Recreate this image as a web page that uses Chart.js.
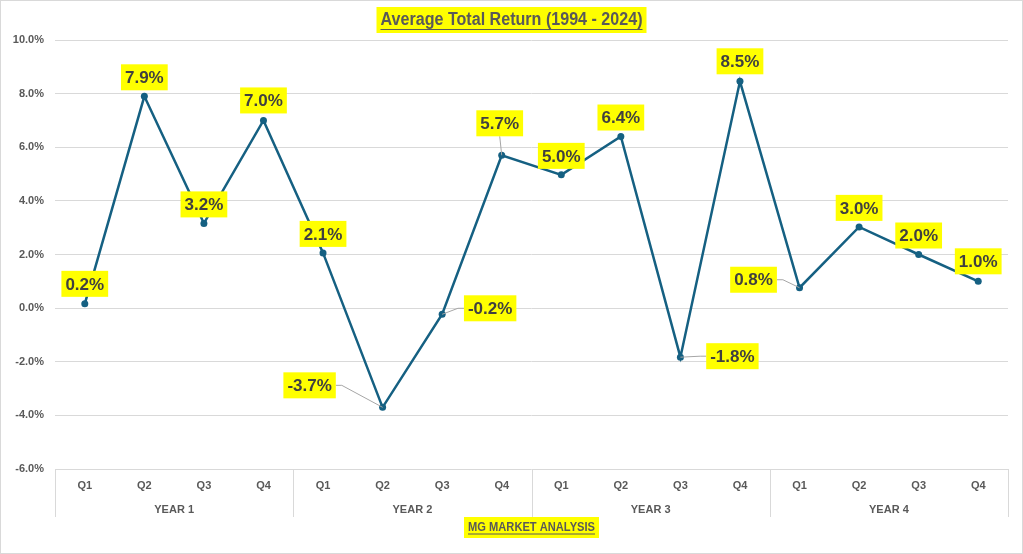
<!DOCTYPE html>
<html lang="en">
  <head>
    <meta charset="UTF-8" />
    <title>Average Total Return (1994 - 2024)</title>
    <script src="https://cdn.jsdelivr.net/npm/chart.js"></script>
    <style>
      body {
        margin: 0;
        background: #fff;
        font-family: "Liberation Sans", Arial, sans-serif;
      }
      #wrap {
        width: 1023px;
        height: 554px;
      }
    </style>
  </head>
  <body>
    <div id="wrap">
      <canvas id="returnChart" width="1023" height="554"></canvas>
    </div>

    <script>
      // data
      const quarters = ["Q1", "Q2", "Q3", "Q4", "Q1", "Q2", "Q3", "Q4", "Q1", "Q2", "Q3", "Q4", "Q1", "Q2", "Q3", "Q4"];
      const years = ["YEAR 1", "YEAR 2", "YEAR 3", "YEAR 4"];
      const avgReturn = [0.16, 7.9, 3.16, 7.0, 2.06, -3.7, -0.23, 5.7, 4.97, 6.4, -1.83, 8.46, 0.76, 3.03, 2.0, 1.0];
      const yTicks = { min: -6, max: 10, step: 2 };

      const chartTitle = "Average Total Return (1994 - 2024)";
      const axisTitle = "MG MARKET ANALYSIS";

      const lineColor = "#156082";
      const textGray = "#595959";
      const gridGray = "#d9d9d9";

      // label offsets from each point [dx, dy, leader]
      const labelOffsets = [
        [0, -20], [0, -19], [0, -19], [0, -20],
        [0, -19], [-73, -22, true], [48, -6, true], [-2, -32, true],
        [0, -19], [0, -19], [52, -1, true], [0, -20],
        [-46, -8, true], [0, -19], [0, -19], [0, -20],
      ];

      function fitText(ctx, text, x, y, maxW) {
        const w = ctx.measureText(text).width;
        const k = w > maxW ? maxW / w : 1;
        ctx.save();
        ctx.translate(x, y);
        ctx.scale(k, 1);
        ctx.fillText(text, 0, 0);
        ctx.restore();
        return w * k;
      }

      function headerText(ctx, text, cx, cy, font, maxW, boxH, ulOff) {
        ctx.save();
        ctx.font = font;
        const w = Math.min(ctx.measureText(text).width, maxW);
        ctx.fillStyle = "#ffff00";
        ctx.fillRect(cx - w / 2 - 4, cy - boxH / 2, w + 8, boxH);
        ctx.fillStyle = textGray;
        ctx.textAlign = "center";
        ctx.textBaseline = "middle";
        fitText(ctx, text, cx, cy, maxW);
        ctx.strokeStyle = textGray;
        ctx.lineWidth = 1;
        ctx.beginPath();
        ctx.moveTo(cx - w / 2, cy + ulOff + 0.5);
        ctx.lineTo(cx + w / 2, cy + ulOff + 0.5);
        ctx.stroke();
        ctx.restore();
      }

      const decorPlugin = {
        id: "decor",
        afterDraw(chart) {
          const ctx = chart.ctx;
          const a = chart.chartArea;
          ctx.save();
          // year separators under the axis
          ctx.strokeStyle = gridGray;
          ctx.lineWidth = 1;
          const seg = (a.right - a.left) / years.length;
          for (let i = 0; i <= years.length; i++) {
            const x = Math.round(a.left + i * seg) + 0.5;
            ctx.beginPath();
            ctx.moveTo(x, a.bottom);
            ctx.lineTo(x, a.bottom + 48);
            ctx.stroke();
          }
          // outer frame
          ctx.strokeRect(0.5, 0.5, chart.width - 1, chart.height - 1);
          ctx.restore();

          headerText(ctx, chartTitle, chart.width / 2, 20, "bold 18px 'Liberation Sans'", 262, 26, 9);
          headerText(ctx, axisTitle, (a.left + a.right) / 2, 527.5, "bold 12px 'Liberation Sans'", 127, 21, 6);
        },
      };

      const labelPlugin = {
        id: "pointLabels",
        afterDatasetsDraw(chart) {
          const ctx = chart.ctx;
          const meta = chart.getDatasetMeta(0);
          ctx.save();
          ctx.font = "bold 17px 'Liberation Sans'";
          ctx.textAlign = "center";
          ctx.textBaseline = "middle";
          meta.data.forEach((pt, i) => {
            const [dx, dy, leader] = labelOffsets[i];
            const cx = pt.x + dx;
            const cy = pt.y + dy;
            const text = avgReturn[i].toFixed(1) + "%";
            const w = ctx.measureText(text).width + 8;
            const h = 26;
            if (leader) {
              ctx.strokeStyle = "#a6a6a6";
              ctx.lineWidth = 1;
              ctx.beginPath();
              if (Math.abs(dx) > Math.abs(dy)) {
                const sx = dx < 0 ? cx + w / 2 : cx - w / 2;
                const stub = dx < 0 ? 6 : -6;
                ctx.moveTo(sx, cy);
                ctx.lineTo(sx + stub, cy);
              } else {
                ctx.moveTo(cx, dy < 0 ? cy + h / 2 : cy - h / 2);
              }
              ctx.lineTo(pt.x, pt.y);
              ctx.stroke();
            }
            ctx.fillStyle = "#ffff00";
            ctx.fillRect(cx - w / 2, cy - h / 2, w, h);
            ctx.fillStyle = "#404040";
            ctx.fillText(text, cx, cy + 1);
          });
          ctx.restore();
        },
      };

      const tickFont = { family: "'Liberation Sans'", size: 11, weight: "bold" };

      new Chart(document.getElementById("returnChart"), {
        type: "line",
        data: {
          labels: quarters,
          datasets: [
            {
              label: "Average Total Return",
              data: avgReturn,
              borderColor: lineColor,
              backgroundColor: lineColor,
              borderWidth: 2.5,
              pointRadius: 3.5,
              pointBackgroundColor: lineColor,
              pointBorderWidth: 0,
              tension: 0,
            },
          ],
        },
        options: {
          responsive: false,
          animation: false,
          layout: { padding: { top: 40, left: 0, right: 15, bottom: 36 } },
          plugins: {
            legend: { display: false },
            tooltip: { enabled: false },
          },
          scales: {
            x: {
              type: "category",
              position: "bottom",
              weight: 0,
              offset: true,
              grid: { display: false, drawTicks: false },
              border: { display: false },
              ticks: { color: textGray, font: tickFont, padding: 10, maxRotation: 0, autoSkip: false },
              afterFit: (s) => { s.height = 31; },
            },
            xYear: {
              type: "category",
              position: "bottom",
              weight: 1,
              offset: true,
              labels: years,
              grid: { display: false, drawTicks: false },
              border: { display: false },
              ticks: { color: textGray, font: tickFont, padding: 3, maxRotation: 0, autoSkip: false },
              afterFit: (s) => { s.height = 18; },
            },
            y: {
              min: yTicks.min,
              max: yTicks.max,
              grid: { color: gridGray, drawTicks: false },
              border: { display: false },
              ticks: {
                stepSize: yTicks.step,
                padding: 11,
                color: textGray,
                font: tickFont,
                callback: (v) => v.toFixed(1) + "%",
              },
              afterFit: (s) => { s.width = 55; },
            },
          },
        },
        plugins: [labelPlugin, decorPlugin],
      });
    </script>
  </body>
</html>
